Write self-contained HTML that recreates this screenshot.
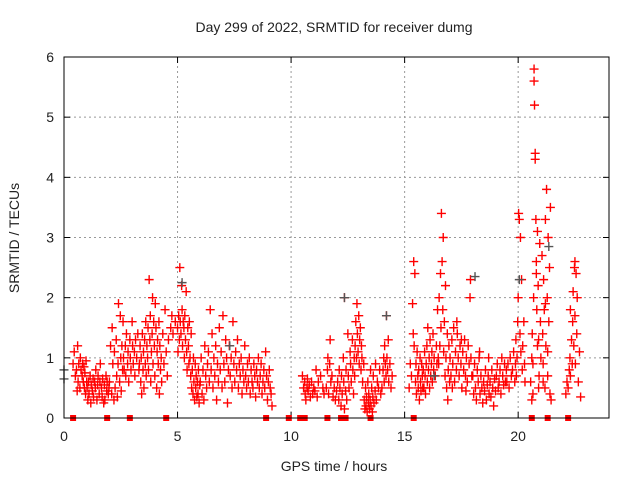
<!DOCTYPE html>
<html><head><meta charset="utf-8"><style>
html,body{margin:0;padding:0;background:#fff;}
svg{display:block;font-family:"Liberation Sans",sans-serif;}
</style></head><body>
<svg id="chart" width="640" height="480" viewBox="0 0 640 480" xmlns="http://www.w3.org/2000/svg">
<rect width="640" height="480" fill="#fff"/>
<text x="334" y="32" text-anchor="middle" font-size="14" fill="#222">Day 299 of 2022, SRMTID for receiver dumg</text>
<text transform="translate(19,238) rotate(-90)" text-anchor="middle" font-size="14" fill="#222">SRMTID / TECUs</text>
<text x="334" y="471" text-anchor="middle" font-size="14" fill="#222">GPS time / hours</text>
<g id="grid"></g>
<g id="ticks"></g>
<g id="marks"></g>
<rect x="64" y="57" width="545" height="361" fill="none" stroke="#000" stroke-width="1"/>
</svg>
<script>
const xTicks = [0,5,10,15,20];
const yTicks = [0,1,2,3,4,5,6];
const times = [
0.40,0.45,0.50,0.55,0.60,0.62,0.65,0.70,0.72,0.75,0.80,0.82,0.85,0.88,0.90,0.92,0.95,0.97,1.00,0.58,
1.02,1.05,1.08,1.1,1.15,1.18,1.2,1.25,1.28,1.3,1.35,1.38,1.4,1.45,1.48,1.5,1.55,1.58,1.6,1.65,1.68,1.7,1.75,1.78,1.8,1.85,1.88,1.9,1.95,1.98,
2.0,2.05,2.1,2.12,2.15,2.2,2.22,2.25,2.3,2.32,2.35,2.38,2.4,2.45,2.48,2.5,2.52,2.55,2.58,2.6,
2.62,2.65,2.7,2.72,2.75,2.8,2.82,2.85,2.9,2.92,2.95,3.0,3.02,3.05,3.1,3.12,3.15,3.2,3.25,3.3,
3.32,3.35,3.38,3.4,3.42,3.45,3.48,3.5,3.52,3.55,3.58,3.6,3.62,3.65,3.68,3.7,3.72,3.75,3.78,3.8,3.82,3.85,3.88,3.9,3.92,3.95,3.98,4.0,4.02,4.05,4.08,4.1,4.12,4.15,4.18,4.2,4.22,4.25,4.28,4.3,4.35,4.4,4.45,4.5,4.55,4.6,4.7,4.75,4.8,4.9,
5.0,5.02,5.05,5.08,5.1,5.12,5.15,5.18,5.2,5.22,5.25,5.28,5.3,5.32,5.35,5.38,5.4,5.42,5.45,5.48,5.5,5.52,5.55,5.58,5.6,
5.62,5.65,5.68,5.7,5.72,5.75,5.78,5.8,5.82,5.85,5.88,5.9,5.92,5.95,5.98,
6.0,6.04,6.08,6.12,6.16,6.2,6.24,6.28,6.32,6.36,6.4,6.44,6.48,6.52,6.56,6.6,6.64,6.68,6.72,6.76,6.8,6.84,6.88,6.92,6.96,7.0,7.04,7.08,7.12,7.16,7.2,7.24,7.28,7.32,7.36,7.4,7.44,7.48,7.52,7.56,7.6,7.64,7.68,7.72,7.76,7.8,7.84,7.88,7.92,7.96,
8.0,8.04,8.08,8.12,8.16,8.2,8.24,8.28,8.32,8.36,8.4,8.44,8.48,8.52,8.56,8.6,8.64,8.68,8.72,8.76,8.8,8.84,8.88,8.92,8.96,9.0,9.04,9.08,9.12,9.16,
10.5,10.55,10.6,10.62,10.65,10.7,10.72,10.75,10.8,10.85,10.9,10.95,11.0,11.05,11.1,11.15,11.2,11.3,11.4,11.45,
11.55,11.6,11.62,11.65,11.7,11.72,11.75,11.8,11.85,11.9,11.95,12.0,
12.05,12.1,12.12,12.15,12.2,12.22,12.25,12.3,12.32,12.35,12.4,12.42,12.45,12.5,12.52,12.55,12.6,12.62,12.65,12.7,12.72,12.75,12.78,12.8,12.35,
12.82,12.85,12.88,12.9,12.92,12.95,12.98,13.0,13.02,13.05,13.08,13.1,13.12,13.15,13.2,
13.22,13.25,13.28,13.3,13.32,13.35,13.38,13.4,13.42,13.45,13.48,13.5,13.52,13.55,13.58,13.6,13.62,13.65,13.7,13.72,13.75,13.8,13.85,13.9,13.95,
14.0,14.05,14.08,14.1,14.12,14.15,14.18,14.2,14.22,14.25,14.28,14.3,14.35,14.4,14.45,
15.2,15.25,15.3,15.35,15.38,15.4,15.42,15.45,15.48,15.5,15.52,15.55,15.58,15.6,15.62,15.65,15.68,15.7,15.72,15.75,15.78,15.8,
15.82,15.85,15.88,15.9,15.92,15.95,15.98,16.0,16.02,16.05,16.08,16.1,16.12,16.15,16.18,16.2,16.22,16.25,16.28,16.3,16.35,16.4,16.42,16.45,16.48,
16.5,16.52,16.55,16.58,16.6,16.62,16.65,16.68,16.7,16.72,16.75,16.78,16.8,16.82,16.85,16.88,16.9,16.92,16.95,16.98,
17.0,17.04,17.08,17.12,17.16,17.2,17.24,17.28,17.32,17.36,17.4,17.44,17.48,17.52,17.56,17.6,17.64,17.68,17.72,17.76,17.8,17.84,17.88,17.92,17.96,17.1,17.3,17.5,17.7,17.9,
18.0,18.04,18.08,18.12,18.16,18.2,18.24,18.28,18.32,18.36,18.4,18.44,18.48,18.52,18.56,18.6,18.64,18.68,18.72,18.76,18.8,18.84,18.88,18.92,18.96,19.0,19.04,19.08,19.12,19.16,19.2,19.24,19.28,19.32,19.36,19.4,19.44,19.48,18.3,18.7,
19.5,19.55,19.6,19.65,19.7,19.75,19.8,19.85,19.88,19.9,19.92,19.95,19.98,20.0,20.02,20.05,20.08,20.1,20.12,20.15,20.18,20.2,20.25,20.28,20.3,
20.55,20.6,20.62,20.65,20.68,20.7,20.72,20.75,20.78,20.8,20.82,20.85,20.88,20.9,20.92,20.95,20.98,21.0,20.7,20.75,20.8,20.85,20.9,20.6,20.65,
21.05,21.08,21.1,21.12,21.15,21.18,21.2,21.22,21.25,21.28,21.3,21.32,21.35,21.38,21.4,21.42,21.45,21.1,21.2,21.3,
22.1,22.15,22.2,22.25,22.28,22.3,22.35,22.38,22.4,22.42,22.45,22.48,22.5,22.52,22.55,22.58,22.6,22.65,22.7,22.75,22.3,22.5
];
const srmtid = [
0.9,1.1,0.7,0.8,1.2,0.6,0.9,0.5,1.0,0.8,0.7,0.9,0.6,0.85,0.5,0.75,0.4,0.95,0.6,0.45,
0.5,0.3,0.6,0.4,0.7,0.25,0.55,0.45,0.65,0.35,0.6,0.5,0.8,0.3,0.55,0.7,0.4,0.6,0.9,0.5,0.35,0.65,0.25,0.55,0.3,0.7,0.45,0.6,0.4,0.5,
0.6,1.2,0.4,1.5,0.9,0.3,1.1,0.5,1.3,0.7,0.35,0.9,1.9,0.6,1.7,1.0,0.45,1.2,0.8,1.6,
1.0,0.8,1.2,0.7,1.4,0.9,1.1,0.6,1.3,1.0,0.8,1.6,1.2,0.9,1.1,0.7,1.3,1.0,1.4,0.8,
0.9,1.2,0.6,1.0,0.4,1.4,0.8,1.1,0.5,1.3,0.9,1.6,0.7,1.2,1.0,1.5,0.8,2.3,1.3,1.7,0.6,1.1,1.4,2.0,0.9,1.6,1.2,0.7,1.9,1.5,0.5,1.1,1.3,0.9,1.6,0.4,1.2,0.8,1.0,0.6,1.4,0.9,1.8,1.1,0.7,1.3,1.5,1.7,1.4,1.6,
1.5,1.1,1.7,1.3,2.5,1.6,1.4,2.2,1.8,1.2,1.6,1.5,1.0,1.7,1.3,2.1,1.1,0.8,1.5,1.2,0.9,1.6,1.0,0.7,1.4,
0.5,0.8,0.4,1.0,0.6,0.3,0.9,0.5,0.7,0.35,0.6,0.4,0.8,0.25,0.55,
0.6,1.0,0.4,0.8,0.3,1.2,0.7,0.5,0.9,1.1,0.6,1.8,0.8,1.4,0.5,1.0,0.7,1.2,0.3,0.9,0.6,1.5,0.8,1.1,0.5,1.7,0.9,0.6,1.3,1.0,0.25,0.8,1.2,0.7,1.0,0.5,1.6,0.9,0.6,1.1,0.8,1.3,0.5,0.9,0.7,1.0,0.4,0.8,0.6,1.2,
0.7,0.5,0.9,0.6,1.0,0.4,0.8,0.6,0.5,0.9,0.7,0.35,0.8,0.6,1.0,0.5,0.7,0.9,0.4,0.6,0.8,0.5,1.1,0.7,0.3,0.6,0.8,0.5,0.4,0.2,
0.7,0.5,0.6,0.4,0.3,0.5,0.65,0.45,0.55,0.35,0.6,0.4,0.5,0.45,0.8,0.35,0.6,0.7,0.5,0.4,
0.5,0.8,1.0,0.4,0.9,1.3,0.6,0.7,0.35,0.5,0.3,0.45,
0.6,0.3,0.8,0.5,0.2,0.7,0.4,1.0,0.6,2.0,0.45,0.8,0.3,1.4,0.7,0.5,1.1,0.9,0.6,1.3,0.8,0.4,1.0,0.7,0.15,
1.2,1.6,1.0,1.9,1.4,1.1,1.7,0.9,1.3,1.5,0.8,1.2,1.0,0.6,0.9,
0.3,0.15,0.5,0.2,0.35,0.1,0.6,0.25,0.4,0.15,0.3,0.8,0.2,0.5,0.1,0.35,0.7,0.25,0.45,0.9,0.3,0.6,0.5,0.8,0.4,
0.5,0.8,1.0,0.6,1.2,0.9,0.7,1.7,1.0,0.8,1.3,0.6,0.9,0.5,0.7,
0.5,0.9,0.7,1.9,1.4,2.6,1.2,2.4,0.6,0.9,0.4,1.1,0.7,0.5,0.8,0.3,1.0,0.6,0.45,0.9,0.7,0.5,
0.8,0.5,1.1,0.7,0.4,0.9,1.2,0.6,1.5,0.8,1.0,0.5,1.3,0.7,0.9,1.1,0.6,1.4,0.8,1.0,0.7,1.2,0.9,1.8,1.0,
0.9,2.0,1.2,2.4,1.5,3.4,2.6,1.8,3.0,1.1,1.6,0.7,2.2,1.0,0.5,1.4,0.3,0.8,1.2,0.6,
1.0,0.7,1.3,0.9,1.5,0.6,1.1,0.8,1.4,1.0,0.7,1.2,0.9,0.5,1.1,0.8,1.3,0.7,1.0,0.6,1.2,0.9,2.0,1.0,0.7,0.5,1.6,1.3,0.45,2.3,
0.7,0.4,0.9,0.5,0.3,0.8,0.6,1.0,0.4,0.7,0.5,0.25,0.6,0.45,0.8,0.3,0.55,0.7,0.4,0.6,0.35,0.8,0.5,0.2,0.65,0.45,0.7,0.9,0.5,0.6,0.8,0.4,1.0,0.7,0.55,0.9,0.6,0.8,1.1,1.0,
0.6,0.9,0.5,1.0,0.7,0.8,1.1,0.6,0.9,1.3,0.7,1.0,1.6,2.0,3.4,3.3,1.4,3.0,1.1,2.3,0.8,1.2,1.6,0.9,0.6,
0.6,1.0,1.4,0.4,2.0,5.8,5.2,4.4,3.3,2.6,1.8,3.1,2.2,1.3,0.7,2.9,1.6,1.0,5.6,4.3,2.4,1.2,0.5,0.3,0.9,
2.7,1.4,0.9,2.3,1.8,0.5,3.3,1.2,3.8,2.0,0.7,3.0,1.6,2.5,0.4,3.5,0.3,0.6,1.9,1.1,
0.4,0.6,0.5,0.8,1.0,0.7,1.3,0.9,1.6,2.1,1.2,2.5,1.7,0.9,2.4,1.4,2.0,0.6,1.1,0.35,1.8,2.6
];
const grayTimes = [0.0,0.0,5.2,12.35,14.2,18.1,20.05,21.35,16.3,7.3];
const grayValues = [0.8,0.65,2.25,2.0,1.7,2.35,2.3,2.85,0.7,1.2];
const zeroTimes = [0.4,1.9,2.9,4.5,8.9,9.9,10.4,10.6,11.6,12.2,12.4,13.5,15.4,20.6,21.3,22.2];

const X0=64, X1=609, Y0=418, Y1=57, XMAX=24, YMAX=6;
function xs(t){return X0+(t/XMAX)*(X1-X0);}
function ys(v){return Y0-(v/YMAX)*(Y0-Y1);}
const NS='http://www.w3.org/2000/svg';
function mk(tag,attrs,parent){const e=document.createElementNS(NS,tag);for(const k in attrs)e.setAttribute(k,attrs[k]);parent.appendChild(e);return e;}
const grid=document.getElementById('grid'), ticks=document.getElementById('ticks'), marks=document.getElementById('marks');

xTicks.forEach(t=>{
  const x=xs(t);
  if(t>0){const g=mk('line',{x1:x,y1:Y0,x2:x,y2:Y1,stroke:'#999','stroke-dasharray':'2,3'},grid);
  
  }
  mk('line',{x1:x,y1:Y0,x2:x,y2:Y0-6,stroke:'#000'},ticks);
  mk('line',{x1:x,y1:Y1,x2:x,y2:Y1+6,stroke:'#000'},ticks);
  const l=mk('text',{x:x,y:Y0+23,'text-anchor':'middle','font-size':'14',fill:'#222'},ticks);
  l.textContent=t;
  
  
});
yTicks.forEach(v=>{
  const y=ys(v);
  if(v>0&&v<YMAX){const g=mk('line',{x1:X0,y1:y,x2:X1,y2:y,stroke:'#999','stroke-dasharray':'2,3'},grid);
  
  }
  mk('line',{x1:X0,y1:y,x2:X0+6,y2:y,stroke:'#000'},ticks);
  mk('line',{x1:X1,y1:y,x2:X1-6,y2:y,stroke:'#000'},ticks);
  const l=mk('text',{x:X0-10,y:y+5,'text-anchor':'end','font-size':'14',fill:'#222'},ticks);
  l.textContent=v;
  
  
});
function cross(t,v,color){
  const x=xs(t), y=ys(v);
  const p=mk('path',{d:`M${x-4.5} ${y}H${x+4.5}M${x} ${y-4.5}V${y+4.5}`,stroke:color,'stroke-width':'1.4',fill:'none'},marks);
  
  
}
const n=Math.min(times.length,srmtid.length);
for(let i=0;i<n;i++) cross(times[i],srmtid[i],'#ff0000');
for(let i=0;i<Math.min(grayTimes.length,grayValues.length);i++) cross(grayTimes[i],grayValues[i],'#555');
zeroTimes.forEach(t=>{
  const r=mk('rect',{x:xs(t)-3,y:Y0-3,width:6,height:6,fill:'#ff0000'},marks);
  
  
});
</script>
</body></html>
